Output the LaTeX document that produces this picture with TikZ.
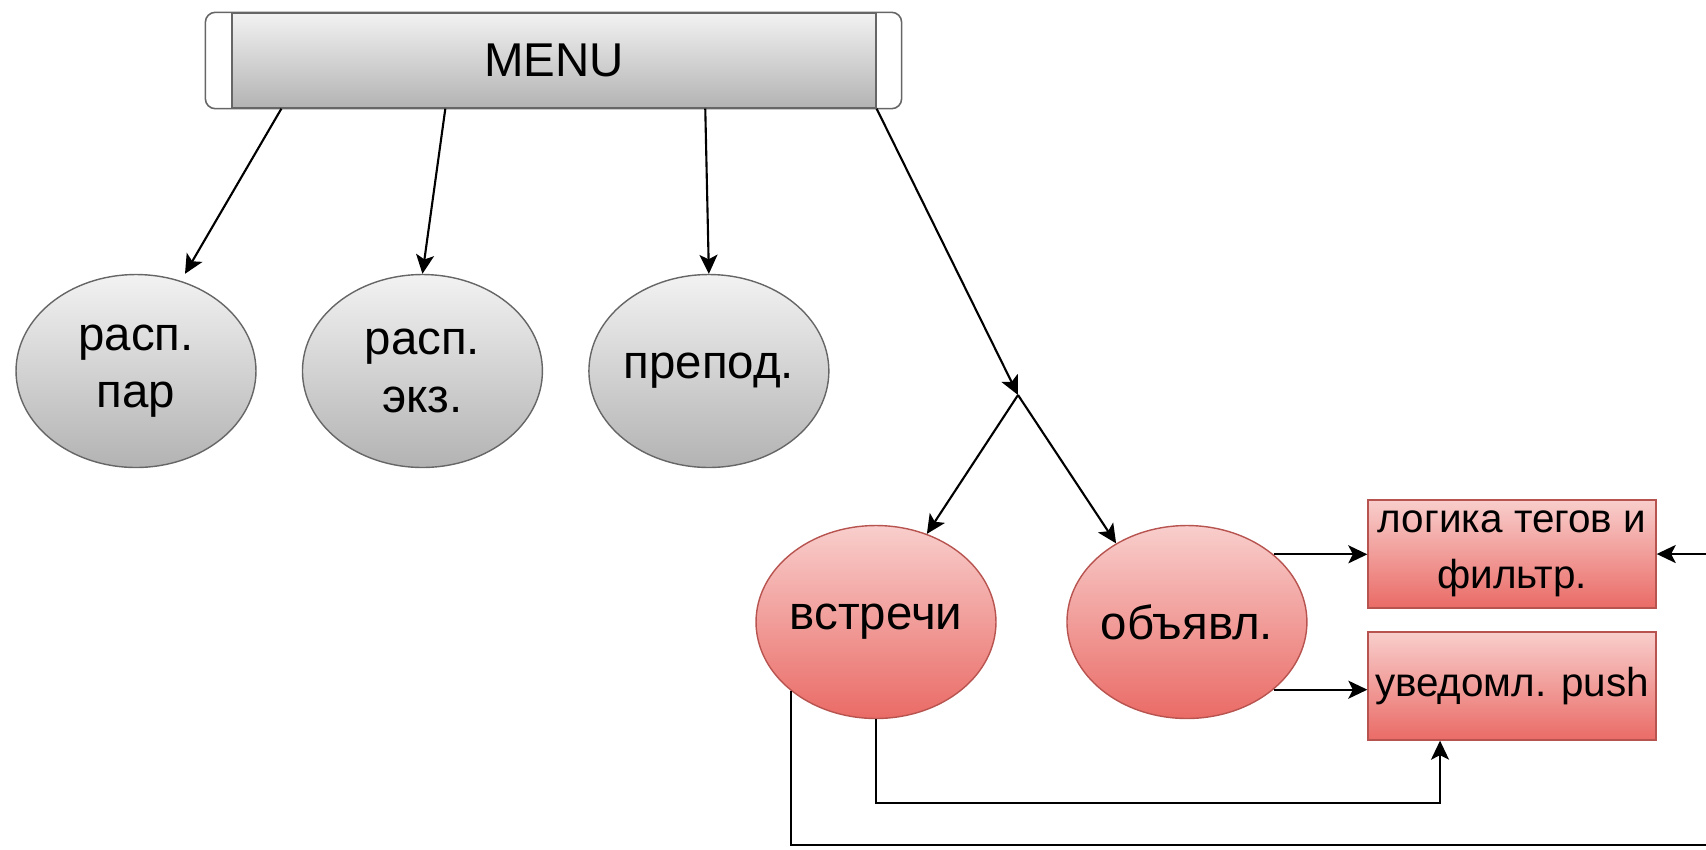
\documentclass[tikz,border=0pt]{standalone}
\usepackage{fontspec}
\setmainfont{Liberation Sans}
\usetikzlibrary{shapes.geometric,arrows.meta}

\definecolor{greyline}{HTML}{666666}
\definecolor{greytop}{HTML}{F2F2F2}
\definecolor{greybot}{HTML}{B3B3B3}
\definecolor{redline}{HTML}{B85450}
\definecolor{redtop}{HTML}{F8CECC}
\definecolor{redbot}{HTML}{EA6B66}

\begin{document}
\begin{tikzpicture}[x=0.02cm, y=-0.02cm, node distance = 5.73cm, auto,
		font=\fontsize{27}{32.5}\selectfont,
		oval/.style={ellipse, draw=greyline, line width=0.8pt, top color=greytop, bottom color=greybot, minimum width=4.8cm, minimum height=3.86cm, inner sep=0pt, inner xsep=-8pt, align=center},
		redoval/.style={oval, draw=redline, top color=redtop, bottom color=redbot},
		redbox/.style={rectangle, draw=redline, line width=0.8pt, top color=redtop, bottom color=redbot, minimum width=5.76cm, minimum height=2.16cm, inner sep=0pt, align=center, font=\fontsize{23}{32}\selectfont},
		arr/.style={-{Stealth[length=0.38cm, width=0.36cm, inset=0.09cm]}, line width=1.2pt}]
				\useasboundingbox (0,0) rectangle (1706,849);
				\clip (0,0) rectangle (1706,849);
				
				\node (0) [draw=greyline, line width=0.8pt, top color=greytop, bottom color=greybot, minimum width=12.88cm, minimum height=1.9cm] at (554,60.5) {MENU};
				\draw[greyline, line width=0.9pt, rounded corners=0.2cm] ([xshift=-0.52cm]0.north west) rectangle ([xshift=0.5cm]0.south east);
				
				\node (1) [oval] at (136,371) {расп.\\пар};
				\node (2) [oval, right of=1] {расп.\\экз.};
				\node (3) [oval, right of=2] {препод.};
				\node (4) [redoval] at (876,622) {встречи};
				\node (5) [redoval, right of=4, node distance=6.22cm] {объявл.};
				\node (6) [redbox] at (1512,554) {логика тегов и\\фильтр.};
				\node (7) [redbox, below of=6, node distance=2.64cm] {уведомл. push};
				
				\coordinate (s) at (1018,395);
				\coordinate (c) at (1760,845);
				
				\draw[arr] ([xshift=1cm]0.south west) -- ([xshift=0.98cm]1.north);
				\draw[arr] ([xshift=4.28cm]0.south west) -- (2.north);
				\draw[arr] ([xshift=9.48cm]0.south west) -- (3.north);
				\draw[arr] (0.south east) -- (s);
				\draw[arr] (s) -- (4.60);
				\draw[arr] (s) -- (5.132);
				\draw[arr] (5.38) -- (5.38 -| 6.west);
				\draw[arr] (5.322) -- (5.322 -| 7.west);
				\draw[arr] (4.south) -- ++(0,84) -| ([xshift=-1.44cm]7.south);
				\draw[arr] (4.south west) |- (c) |- (6.east);
			\end{tikzpicture}
\end{document}
